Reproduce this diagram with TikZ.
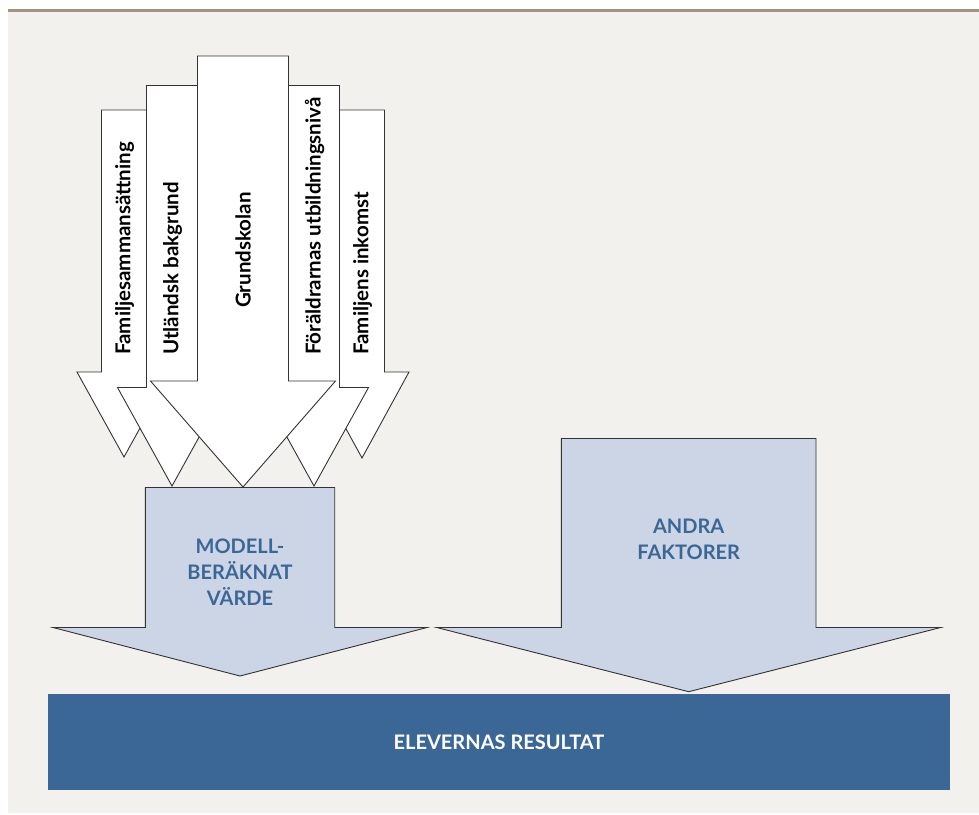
\documentclass[tikz,border=0pt]{standalone}
\usepackage{fontspec}
\setmainfont{Lato}
\usepackage{xcolor}

\definecolor{panel}{HTML}{F2F1EE}
\definecolor{rulebrown}{HTML}{A39482}
\definecolor{paleblue}{HTML}{CBD5E6}
\definecolor{deepblue}{HTML}{3B6797}
\definecolor{edgegray}{HTML}{333333}

\tikzset{
 factor/.style={rotate=90, anchor=west, inner sep=0, font=\bfseries\fontsize{20.5}{20.5}\selectfont},
 sumtext/.style={align=center, inner sep=0, text=deepblue, font=\bfseries\fontsize{20}{26}\selectfont},
 resultbar/.style={fill=deepblue, text=white, inner sep=0, minimum width=902pt, minimum height=96pt, font=\bfseries\fontsize{20}{20}\selectfont},
}

\begin{document}
\begin{tikzpicture}[x=1pt, y=-1pt]
\useasboundingbox (0,0) rectangle (979,814);
\fill[white] (0,0) rectangle (979,814);
\fill[panel] (8,12) rectangle (979,813);
\draw[rulebrown, line width=2.7pt] (8,10.3)--(979,10.3);
% factor arrows, outer ones first
\foreach \cx/\top/\sw/\sb/\hw/\tip in {124/110/22.5/372/47/457, 362/110/22.5/372/47/458, 172/85.5/25.5/387.5/54.5/486, 314/85.5/25.5/387.5/54.5/486, 243/56/45.5/381/92.5/487} {
 \draw[edgegray, fill=white, line width=0.9pt, line join=miter] (\cx-\sw,\top)--(\cx+\sw,\top)--(\cx+\sw,\sb)--(\cx+\hw,\sb)--(\cx,\tip)--(\cx-\hw,\sb)--(\cx-\sw,\sb)--cycle;
}
\node[factor] (familj) at (124.5,355) {Familjesammansättning};
\node[factor] (utland) at (172.5,355) {Utländsk bakgrund};
\node[factor] (grund) at (243,308) {Grundskolan};
\node[factor] (foraldrar) at (314.5,355) {Föräldrarnas utbildningsnivå};
\node[factor] (inkomst) at (362.5,355) {Familjens inkomst};
% the two sum arrows
\foreach \cx/\top/\sw/\sb/\hw/\tip in {240/487.5/94.7/627.5/187/676, 688.7/438.5/127.3/627.5/252/691.7} {
 \draw[edgegray, fill=paleblue, line width=0.9pt, line join=miter] (\cx-\sw,\top)--(\cx+\sw,\top)--(\cx+\sw,\sb)--(\cx+\hw,\sb)--(\cx,\tip)--(\cx-\hw,\sb)--(\cx-\sw,\sb)--cycle;
}
\node[sumtext] (modell) at (240,572) {MODELL-\\BERÄKNAT\\VÄRDE};
\node[sumtext] (andra) at (688.7,539.5) {ANDRA\\FAKTORER};
\node[resultbar] (resultat) at (499,742) {ELEVERNAS RESULTAT};
\end{tikzpicture}
\end{document}
